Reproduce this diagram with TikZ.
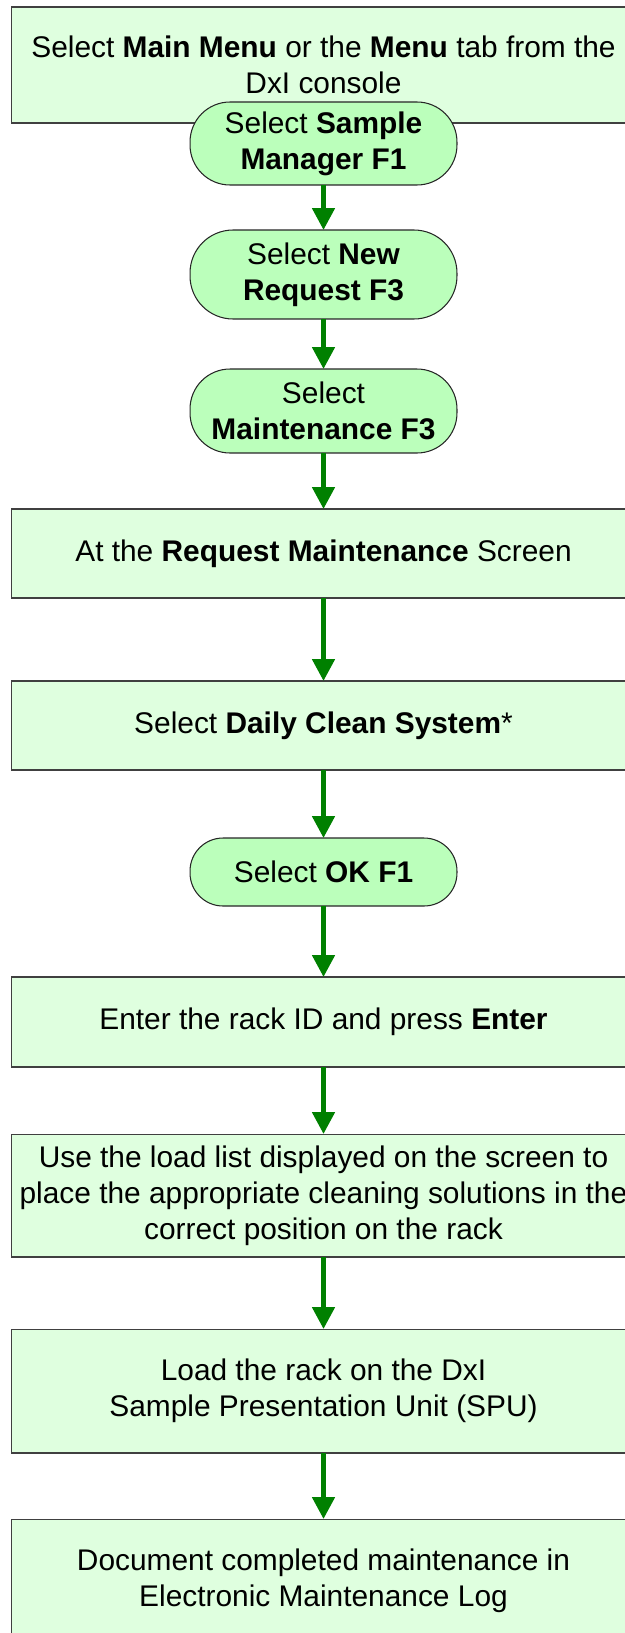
\documentclass[tikz,border=0pt]{standalone}
\usepackage{fontspec}
\setmainfont{Liberation Sans}
\usetikzlibrary{arrows.meta}

\definecolor{boxgreen}{RGB}{223,255,223}
\definecolor{pillgreen}{RGB}{187,255,187}
\definecolor{flowgreen}{RGB}{0,128,0}

\begin{document}
\begin{tikzpicture}[x=0.02cm, y=-0.02cm,
  every node/.style={outer sep=0pt, align=center, font=\fontsize{17}{20.5}\selectfont},
  stepbox/.style={rectangle, draw=black!75, line width=0.6pt, fill=boxgreen, minimum width=12.5cm},
  pill/.style={rectangle, draw=black!85, line width=0.6pt, fill=pillgreen, minimum width=5.34cm},
  flow/.style={draw=flowgreen, line width=2.8pt, -{Triangle[length=0.44cm,width=0.44cm]}}]
\clip (0,0) rectangle (625,1633);

\node[stepbox, minimum height=2.32cm] (menu) at (323.5,65) {Select \textbf{Main Menu} or the \textbf{Menu} tab from the\\DxI console};
\node[pill, minimum height=1.66cm, rounded corners=0.8cm] (sample) at (323.5,143.5) {Select \textbf{Sample}\\\textbf{Manager F1}};
\node[pill, minimum height=1.78cm, rounded corners=0.86cm] (newreq) at (323.5,274.5) {Select \textbf{New}\\\textbf{Request F3}};
\node[pill, minimum height=1.68cm, rounded corners=0.8cm] (maint) at (323.5,411) {Select\\\textbf{Maintenance F3}};
\node[stepbox, minimum height=1.78cm] (reqscreen) at (323.5,553.5) {At the \textbf{Request Maintenance} Screen};
\node[stepbox, minimum height=1.78cm] (daily) at (323.5,725.5) {Select \textbf{Daily Clean System}*};
\node[pill, minimum height=1.36cm, rounded corners=0.66cm] (ok) at (323.5,872) {Select \textbf{OK F1}};
\node[stepbox, minimum height=1.8cm] (rackid) at (323.5,1022) {Enter the rack ID and press \textbf{Enter}};
\node[stepbox, minimum height=2.46cm] (loadlist) at (323.5,1195.5) {Use the load list displayed on the screen to\\place the appropriate cleaning solutions in the\\correct position on the rack};
\node[stepbox, minimum height=2.48cm] (loadrack) at (323.5,1391) {Load the rack on the DxI\\Sample Presentation Unit (SPU)};
\node[stepbox, minimum height=2.48cm] (logbook) at (323.5,1581) {Document completed maintenance in\\Electronic Maintenance Log};

\draw[flow] (sample) -- (newreq);
\draw[flow] (newreq) -- (maint);
\draw[flow] (maint) -- (reqscreen);
\draw[flow] (reqscreen) -- (daily);
\draw[flow] (daily) -- (ok);
\draw[flow] (ok) -- (rackid);
\draw[flow] (rackid) -- (loadlist);
\draw[flow] (loadlist) -- (loadrack);
\draw[flow] (loadrack) -- (logbook);
\end{tikzpicture}
\end{document}
